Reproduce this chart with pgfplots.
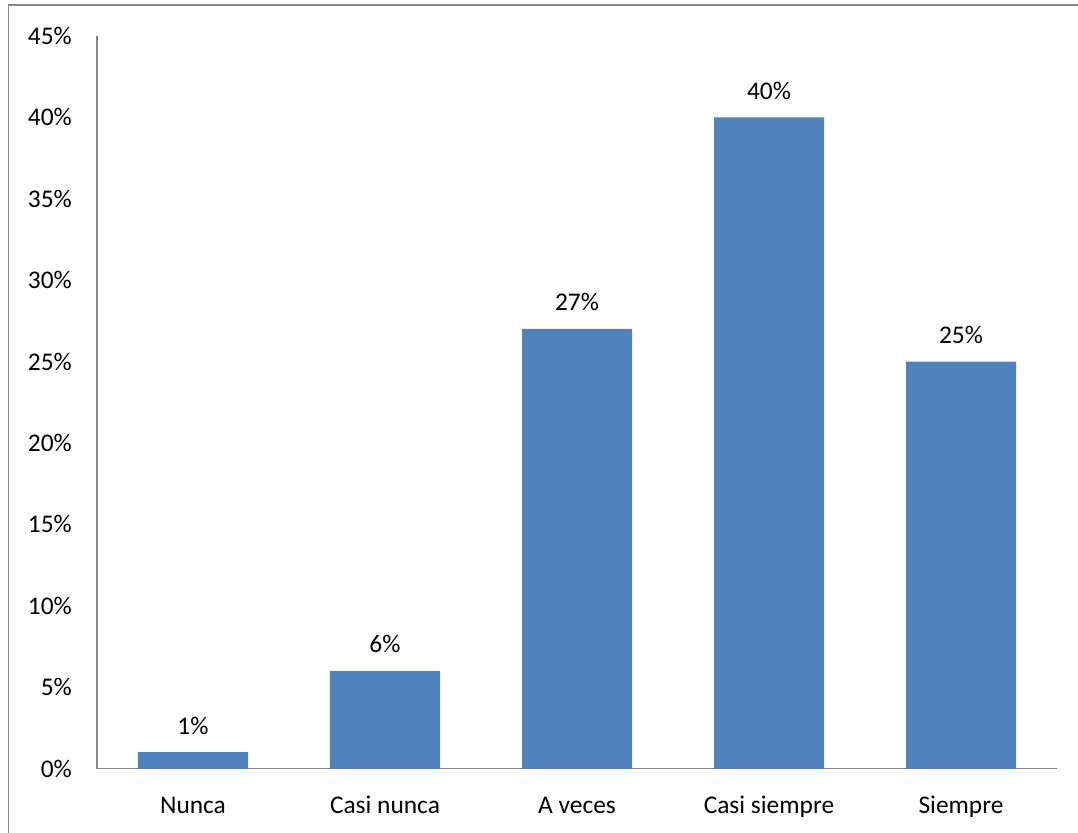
\documentclass[border=0pt]{standalone}
\usepackage{pgfplots}
\pgfplotsset{compat=1.18}
\usepackage{fontspec}
\setmainfont{Carlito}
\definecolor{barblue}{HTML}{4F81BD}
\definecolor{axgray}{HTML}{868686}
\begin{document}
\begin{tikzpicture}[x=1bp,y=1bp]
\useasboundingbox (-97bp,-64.5bp) rectangle (981bp,768.5bp);
\draw[axgray, line width=1.2bp] (-88.5bp,-64.5bp) -- (-88.5bp,763.5bp) -- (981bp,763.5bp);
\begin{axis}[
  at={(0,0)}, anchor=south west,
  scale only axis,
  width=960bp, height=732.5bp,
  xmin=-0.5, xmax=4.5,
  ymin=0, ymax=45,
  axis x line*=bottom,
  axis y line*=left,
  axis line style={axgray, line width=1.2bp},
  x axis line style={-}, y axis line style={-},
  major tick length=0pt,
  xtick={0,1,2,3,4},
  xticklabels={Nunca, Casi nunca, A veces, Casi siempre, Siempre},
  ytick={0,5,...,45},
  yticklabel={\pgfmathprintnumber{\tick}\%},
  /pgf/number format/assume math mode=true,
  ticklabel style={font=\fontsize{25.5}{30}\selectfont},
  yticklabel style={anchor=east, inner sep=0pt, xshift=-25bp},
  xticklabel style={anchor=base, inner sep=0pt, yshift=-45bp},
  ybar, bar width=110bp,
  nodes near coords={\pgfmathprintnumber{\pgfplotspointmeta}\%},
  every node near coord/.append style={font=\fontsize{25.5}{30}\selectfont, anchor=base, inner sep=0pt, yshift=18bp, /pgf/number format/assume math mode=true},
  clip=false,
]
\addplot[fill=barblue, draw=none] coordinates {(0,1) (1,6) (2,27) (3,40) (4,25)};
\end{axis}
\end{tikzpicture}
\end{document}
